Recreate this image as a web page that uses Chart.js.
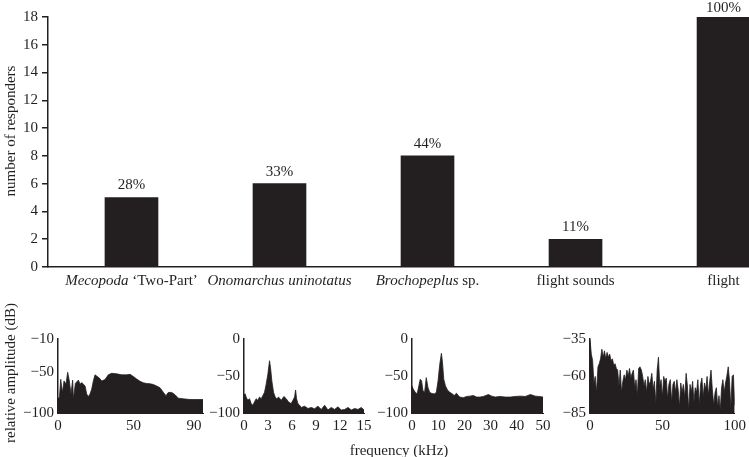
<!DOCTYPE html>
<html>
<head>
<meta charset="utf-8">
<script src="https://cdn.jsdelivr.net/npm/chart.js@4.4.0/dist/chart.umd.min.js"></script>
<style>
  body { margin: 0; background: #fff; }
  #wrap { position: relative; width: 749px; height: 457px; overflow: hidden; font-family: "Liberation Serif", serif; color: #231f20; }
  canvas { position: absolute; }
  .title { position: absolute; font-size: 15px; white-space: nowrap; transform: translate(-50%, -50%); }
  .rot { transform: translate(-50%, -50%) rotate(-90deg); }
</style>
</head>
<body>
<div id="wrap">
  <canvas id="responders" width="749" height="300" style="left:0;top:0"></canvas>
  <canvas id="spec1"></canvas>
  <canvas id="spec2"></canvas>
  <canvas id="spec3"></canvas>
  <canvas id="spec4"></canvas>
  <div class="title rot" style="left:10px;top:131px">number of responders</div>
  <div class="title rot" style="left:10px;top:373px">relative amplitude (dB)</div>
  <div class="title" style="left:399px;top:450px">frequency (kHz)</div>
</div>
<script>
// Balkendiagramm: Anzahl der reagierenden Tiere
const categoryItalic = ['Mecopoda', 'Onomarchus uninotatus', 'Brochopeplus', '', ''];
const categoryPlain = [' \u2018Two-Part\u2019', '', ' sp.', 'flight sounds', 'flight'];
const responders = [5, 6, 8, 2, 18];
const percentages = ['28%', '33%', '44%', '11%', '100%'];
const responderTicks = [0, 2, 4, 6, 8, 10, 12, 14, 16, 18];

// Spektren (Frequenz in kHz, Pegel in dB)
const mecopodaFreq = [0, 0.2, 1, 1.8, 2.9, 4.0, 5.3, 6.4, 7.5, 8.6, 9.7, 10.2, 11.5, 13.5, 14.6, 15.7, 16.8, 17.9, 19, 20.1, 21.2, 22.3, 23.4, 24.5, 26, 27.4, 28.9, 31.1, 33.3, 35.5, 38.9, 42.2, 45.5, 47.7, 49.9, 52.1, 54.3, 56.5, 58.7, 60.9, 63.1, 65.3, 67.5, 69.8, 71.5, 73, 75.3, 77.5, 79.7, 83, 87.4, 91.9, 96];
const mecopodaDb = [-82, -83, -80, -59, -75, -61, -65, -50.5, -61, -77, -60, -83, -64, -60, -65, -63, -65, -67, -77, -80, -77, -71, -61, -53.6, -55.6, -57.5, -61, -59.4, -53.6, -51.7, -52.4, -53.6, -53.6, -53, -55.6, -58.7, -61.4, -63.3, -64.1, -64.5, -65.3, -67.2, -69.2, -75, -78.9, -75, -75, -77.8, -82, -82.8, -83.6, -83.6, -83.6];
const mecopodaTicksX = [0, 50, 90];
const mecopodaTicksY = [-100, -50, -10];

const onomarchusFreq = [0, 0.15, 0.27, 0.48, 0.69, 0.9, 1.1, 1.31, 1.52, 1.73, 1.94, 2.15, 2.36, 2.57, 2.77, 2.98, 3.19, 3.32, 3.48, 3.69, 3.9, 4.11, 4.32, 4.65, 4.99, 5.28, 5.57, 5.9, 6.11, 6.32, 6.45, 6.57, 6.74, 6.95, 7.16, 7.57, 7.99, 8.41, 8.82, 9.24, 9.66, 10.08, 10.49, 10.91, 11.33, 11.74, 12.16, 12.58, 13, 13.41, 13.83, 14.25, 14.66, 15];
const onomarchusDb = [-75, -74.1, -78.5, -82.9, -80.7, -87.3, -89.5, -85.1, -80.7, -82.9, -78.5, -80.7, -76.3, -71.9, -61, -47.8, -29.4, -39, -56.6, -71.9, -78.5, -80.7, -78.5, -82.9, -77.6, -80.7, -85.1, -87.3, -82.9, -78.5, -68.9, -80.7, -87.3, -89.5, -92.5, -90.8, -93.9, -92.5, -94.3, -90.8, -95.2, -89.5, -96, -92.5, -95.2, -91.7, -96, -95.2, -92.5, -96, -93.9, -95.2, -92.5, -96];
const onomarchusTicksX = [0, 3, 6, 9, 12, 15];
const onomarchusTicksY = [-100, -50, 0];

const brochopeplusFreq = [0, 0.45, 1.22, 1.99, 2.63, 3.14, 3.65, 4.17, 4.81, 5.45, 6.09, 6.73, 7.37, 8.01, 8.65, 9.29, 9.94, 10.58, 11.22, 11.6, 12.12, 12.76, 13.53, 14.42, 15.32, 16.09, 16.99, 17.63, 18.27, 19.55, 20.83, 22.12, 23.4, 24.68, 25.96, 27.24, 29.17, 30.45, 31.73, 33.65, 35.58, 37.5, 39.42, 41.35, 43.27, 45.19, 47.12, 48.4, 50];
const brochopeplusDb = [-63.2, -67.5, -71.9, -74.1, -63.2, -54.4, -56.6, -69.7, -71.9, -52.2, -65.4, -71.9, -73.3, -74.1, -74.1, -71.9, -56.6, -34.6, -19.3, -30.3, -54.4, -63.2, -68.9, -71.9, -74.1, -76.3, -73.3, -76.3, -78.5, -79.4, -77.6, -77.2, -76.3, -78.5, -78.5, -77.6, -75, -77.2, -78.5, -77.6, -78.5, -78.5, -77.6, -77.2, -77.6, -75, -77.2, -77.6, -78.5];
const brochopeplusTicksX = [0, 10, 20, 30, 40, 50];
const brochopeplusTicksY = [-100, -50, 0];

const flightFreq = [
  0, 0.9, 1.8, 2.7, 3.6, 4.5, 5.5, 6.4, 7.3, 8.2, 9.1,
  10, 10.9, 11.8, 12.7, 13.6, 14.5, 15.5, 16.4, 17.3, 18.2, 19.1,
  20, 20.9, 21.8, 22.7, 23.6, 24.5, 25.5, 26.4, 27.3, 28.2, 29.1,
  30, 30.9, 31.8, 32.7, 33.6, 34.5, 35.5, 36.4, 37.3, 38.2, 39.1,
  40, 40.9, 41.8, 42.7, 43.6, 44.5, 45.5, 46.4, 47.3, 48.2, 49.1,
  50, 50.9, 51.8, 52.7, 53.6, 54.5, 55.5, 56.4, 57.3, 58.2, 59.1,
  60, 60.9, 61.8, 62.7, 63.6, 64.5, 65.5, 66.4, 67.3, 68.2, 69.1,
  70, 70.9, 71.8, 72.7, 73.6, 74.5, 75.5, 76.4, 77.3, 78.2, 79.1,
  80, 80.9, 81.8, 82.7, 83.6, 84.5, 85.5, 86.4, 87.3, 88.2, 89.1,
  90, 90.9, 91.8, 92.7, 93.6, 94.5, 95.5, 96.4, 97.3, 98.2, 99.1,
  100];
const flightDb = [
  -35.4, -45.2, -49.5, -64.7, -60.3, -71.1, -53.8, -51.7, -48.4, -41.9, -47.3,
  -43, -48.4, -44.1, -47.3, -45.2, -49.5, -48.4, -52.7, -51.7, -54.9, -56,
  -66.8, -56, -71.1, -63.6, -59.2, -62.5, -56, -60.3, -54.9, -61.4, -58.2,
  -56, -67.9, -62.5, -73.3, -54.9, -53.8, -56, -60.3, -66.8, -62.5, -71.1,
  -60.3, -65.7, -63.6, -58.2, -69, -63.6, -78.7, -56, -47.3, -66.8, -62.5,
  -74.4, -60.3, -63.6, -61.4, -75.5, -65.7, -62.5, -77.6, -65.7, -63.6, -71.1,
  -62.5, -69, -80.9, -64.7, -71.1, -65.7, -74.4, -58.2, -66.8, -83.1, -65.7,
  -71.1, -63.6, -77.6, -67.9, -71.1, -62.5, -79.8, -65.7, -61.4, -74.4, -64.7,
  -69, -60.3, -73.3, -63.6, -56, -69, -79.8, -71.1, -67.9, -80.9, -73.3,
  -83.1, -67.9, -62.5, -71.1, -64.7, -60.3, -53.8, -63.6, -82, -60.3, -59.2,
  -79.8];
const flightTicksX = [0, 50, 100];
const flightTicksY = [-85, -60, -35];

const ink = '#231f20';
const serif = '"Liberation Serif", serif';
Chart.defaults.font.family = serif;
Chart.defaults.font.size = 15;
Chart.defaults.color = ink;

function minus(v) {
    return v < 0 ? '\u2212' + Math.abs(v) : String(v);
}

// Prozentwerte und Kategorienamen (teilweise kursiv)
const barText = {
    id: 'barText',
    afterDatasetsDraw(chart) {
        const ctx = chart.ctx;
        const xs = chart.scales.x;
        const meta = chart.getDatasetMeta(0);
        ctx.save();
        ctx.fillStyle = ink;
        ctx.textBaseline = 'middle';
        ctx.textAlign = 'center';
        ctx.font = '15px ' + serif;
        meta.data.forEach((bar, i) => {
            ctx.fillText(percentages[i], bar.x, Math.max(bar.y - 12, 8));
        });

        ctx.textAlign = 'left';
        categoryItalic.forEach((it, i) => {
            ctx.font = 'italic 15px ' + serif;
            const w1 = ctx.measureText(it).width;
            ctx.font = '15px ' + serif;
            const w2 = ctx.measureText(categoryPlain[i]).width;
            let x = xs.getPixelForValue(i) - (w1 + w2) / 2;
            ctx.font = 'italic 15px ' + serif;
            ctx.fillText(it, x, 281);
            ctx.font = '15px ' + serif;
            ctx.fillText(categoryPlain[i], x + w1, 281);
        });
        ctx.restore();
    }
};

new Chart(document.getElementById('responders'), {
    type: 'bar',
    data: {
        datasets: [{
            data: responders.map((v, i) => ({ x: i, y: v })),
            backgroundColor: ink,
            barThickness: 53
        }]
    },
    options: {
        responsive: false,
        animation: false,
        layout: { padding: { top: 17, left: 0, right: 0, bottom: 0 } },
        plugins: { legend: { display: false }, tooltip: { enabled: false } },
        scales: {
            x: {
                type: 'linear',
                offset: false,
                min: -0.564,
                max: 4.172,
                grid: { display: false, drawTicks: false, offset: false },
                ticks: { display: false },
                border: { color: ink, width: 1.5 },
                afterFit: s => { s.height = 33; }
            },
            y: {
                min: 0,
                max: 18,
                afterBuildTicks: s => { s.ticks = responderTicks.map(v => ({ value: v })); },
                ticks: { padding: 4 },
                grid: { drawOnChartArea: false, tickLength: 6, color: ink, lineWidth: 1.5 },
                border: { color: ink, width: 1.5 },
                afterFit: s => { s.width = 48; }
            }
        }
    },
    plugins: [barText]
});

// Kleine Spektren unten
function spectrum(id, box, freq, db, ticksX, ticksY) {
    const canvas = document.getElementById(id);
    const axisW = 50, extraR = 13, top = 326, height = 110;
    canvas.width = axisW + (box.r - box.l) + extraR;
    canvas.height = height;
    canvas.style.left = (box.l - axisW) + 'px';
    canvas.style.top = top + 'px';

    new Chart(canvas, {
        type: 'line',
        data: {
            datasets: [{
                data: freq.map((f, i) => ({ x: f, y: db[i] })),
                borderColor: ink,
                backgroundColor: ink,
                borderWidth: 0.8,
                pointRadius: 0,
                fill: 'start'
            }]
        },
        options: {
            responsive: false,
            animation: false,
            layout: { padding: { top: box.t - top, left: 0, right: extraR, bottom: 0 } },
            plugins: { legend: { display: false }, tooltip: { enabled: false } },
            scales: {
                x: {
                    type: 'linear',
                    min: ticksX[0],
                    max: box.xMax,
                    afterBuildTicks: s => { s.ticks = ticksX.map(v => ({ value: v })); },
                    ticks: { padding: 4, autoSkip: false, maxRotation: 0 },
                    grid: { display: false, drawTicks: false },
                    border: { color: ink, width: 1 },
                    afterFit: s => { s.height = top + height - box.b; }
                },
                y: {
                    min: ticksY[0],
                    max: ticksY[ticksY.length - 1],
                    afterBuildTicks: s => { s.ticks = ticksY.map(v => ({ value: v })); },
                    ticks: { padding: 4, callback: v => minus(v) },
                    grid: { display: false, drawTicks: false },
                    border: { color: ink, width: 1.5 },
                    afterFit: s => { s.width = axisW; }
                }
            }
        }
    });
}

spectrum('spec1', { l: 58, r: 203, t: 336, b: 413, xMax: 96 }, mecopodaFreq, mecopodaDb, mecopodaTicksX, mecopodaTicksY);
spectrum('spec2', { l: 244, r: 364, t: 337, b: 413, xMax: 15 }, onomarchusFreq, onomarchusDb, onomarchusTicksX, onomarchusTicksY);
spectrum('spec3', { l: 412, r: 543, t: 337, b: 413, xMax: 50 }, brochopeplusFreq, brochopeplusDb, brochopeplusTicksX, brochopeplusTicksY);
spectrum('spec4', { l: 590, r: 737, t: 336, b: 413, xMax: 100 }, flightFreq, flightDb, flightTicksX, flightTicksY);
</script>
</body>
</html>
